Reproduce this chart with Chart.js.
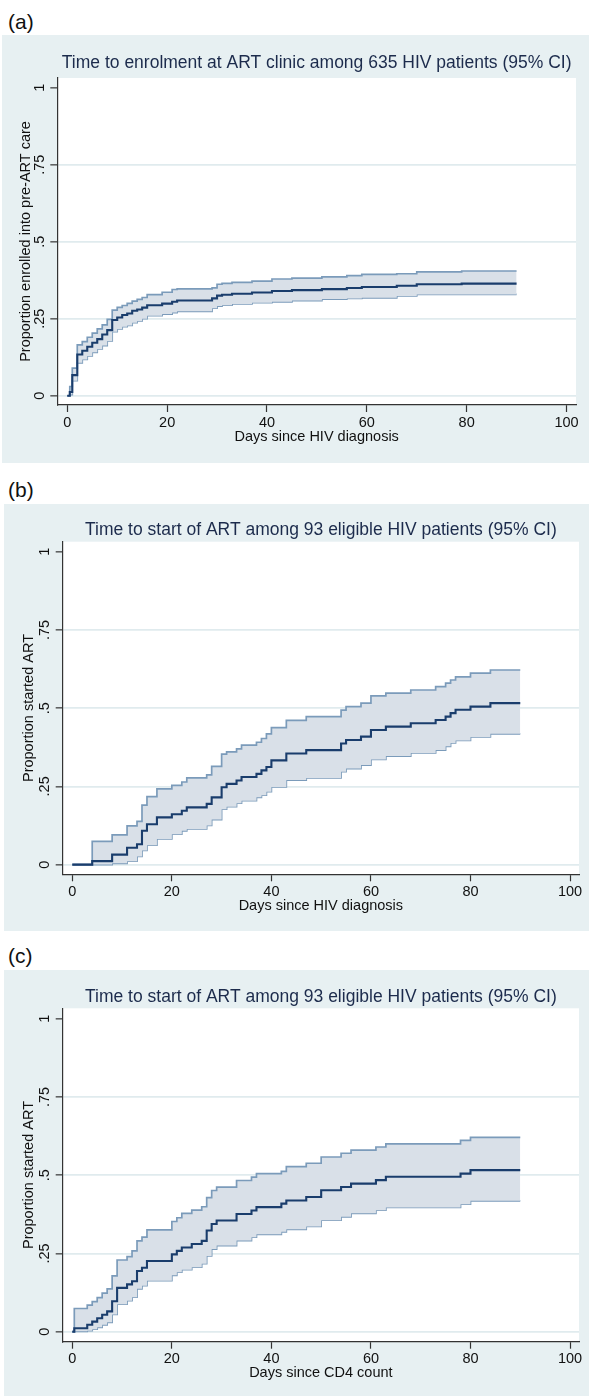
<!DOCTYPE html>
<html>
<head>
<meta charset="utf-8">
<script src="https://cdn.jsdelivr.net/npm/chart.js@4.4.1/dist/chart.umd.min.js"></script>
<style>
  html, body { margin: 0; padding: 0; background: #ffffff; }
  body { position: relative; width: 589px; height: 1396px; overflow: hidden; font-family: "Liberation Sans", Arial, sans-serif; }
  .panel { position: absolute; background: #e7f0f2; }
  .panel canvas { display: block; }
  .tag { position: absolute; font-size: 21px; color: #111; line-height: 1; }
</style>
</head>
<body>
<div class="tag" style="left:8px; top:11px;">(a)</div>
<div class="tag" style="left:8px; top:479px;">(b)</div>
<div class="tag" style="left:8px; top:945px;">(c)</div>
<div class="panel" style="left:2px; top:35px; width:587px; height:428px;"><canvas id="ca"></canvas></div>
<div class="panel" style="left:4px; top:504px; width:585px; height:427px;"><canvas id="cb"></canvas></div>
<div class="panel" style="left:4px; top:970px; width:585px; height:426px;"><canvas id="cc"></canvas></div>
<script>
// ---------- tick labels ----------
const xTickValues = [0, 20, 40, 60, 80, 100];
const yTickValues = [0, 0.25, 0.5, 0.75, 1];
const yTickLabels = ['0', '.25', '.5', '.75', '1'];

// ---------- (a) Time to enrolment at ART clinic, 635 HIV patients ----------
const daysA  = [0, 0.5, 1, 2, 3, 4, 5, 6, 7, 8, 9, 10, 11, 12, 13, 14, 15, 16, 19, 21, 22, 29, 30, 31, 33, 37, 41, 45, 51, 56, 59, 66, 70, 79, 90];
const estA   = [0, 0.012, 0.067, 0.134, 0.146, 0.159, 0.172, 0.184, 0.199, 0.213, 0.246, 0.254, 0.262, 0.267, 0.276, 0.280, 0.286, 0.294, 0.299, 0.305, 0.309, 0.316, 0.325, 0.328, 0.331, 0.335, 0.340, 0.343, 0.346, 0.350, 0.353, 0.357, 0.362, 0.364, 0.364];
const upperA = [0, 0.030, 0.090, 0.165, 0.176, 0.190, 0.203, 0.217, 0.230, 0.248, 0.278, 0.287, 0.293, 0.300, 0.307, 0.313, 0.319, 0.328, 0.336, 0.345, 0.347, 0.350, 0.362, 0.365, 0.368, 0.372, 0.379, 0.382, 0.386, 0.390, 0.394, 0.396, 0.402, 0.405, 0.405];
const lowerA = [0, 0.004, 0.049, 0.107, 0.118, 0.129, 0.141, 0.152, 0.163, 0.178, 0.208, 0.217, 0.224, 0.228, 0.237, 0.243, 0.250, 0.260, 0.265, 0.270, 0.274, 0.284, 0.291, 0.294, 0.298, 0.302, 0.305, 0.309, 0.314, 0.316, 0.318, 0.324, 0.329, 0.329, 0.329];

// ---------- (b) Time to start of ART since HIV diagnosis, 93 eligible ----------
const daysB  = [0, 4, 8, 11, 13, 14, 15, 17, 20, 22, 23, 27, 28, 30, 31, 33, 34, 37, 38, 39, 40, 43, 47, 54, 55, 58, 60, 63, 68, 73, 75, 76, 77, 80, 84, 90];
const estB   = [0, 0.011, 0.032, 0.054, 0.065, 0.108, 0.129, 0.151, 0.161, 0.172, 0.183, 0.194, 0.215, 0.247, 0.258, 0.269, 0.280, 0.290, 0.301, 0.312, 0.333, 0.355, 0.366, 0.387, 0.398, 0.409, 0.430, 0.441, 0.452, 0.462, 0.473, 0.484, 0.495, 0.505, 0.516, 0.516];
const upperB = [0, 0.074, 0.095, 0.124, 0.138, 0.190, 0.217, 0.242, 0.253, 0.264, 0.277, 0.287, 0.314, 0.353, 0.360, 0.370, 0.382, 0.391, 0.403, 0.418, 0.438, 0.461, 0.473, 0.494, 0.505, 0.516, 0.539, 0.548, 0.558, 0.569, 0.580, 0.590, 0.600, 0.612, 0.622, 0.622];
const lowerB = [0, 0.000, 0.004, 0.011, 0.026, 0.045, 0.062, 0.082, 0.097, 0.108, 0.114, 0.125, 0.144, 0.177, 0.185, 0.196, 0.204, 0.215, 0.222, 0.233, 0.248, 0.270, 0.277, 0.297, 0.307, 0.318, 0.336, 0.347, 0.357, 0.366, 0.378, 0.389, 0.397, 0.408, 0.418, 0.418];

// ---------- (c) Time to start of ART since CD4 count, 93 eligible ----------
const daysC  = [0, 0.4, 3, 4, 5, 6, 7, 8, 9, 11, 12, 13, 14, 15, 20, 21, 22, 24, 26, 27, 28, 29, 33, 36, 37, 42, 43, 47, 50, 54, 56, 61, 63, 78, 80, 90];
const estC   = [0, 0.011, 0.022, 0.032, 0.043, 0.054, 0.065, 0.097, 0.140, 0.151, 0.161, 0.194, 0.204, 0.226, 0.247, 0.258, 0.269, 0.280, 0.290, 0.323, 0.344, 0.355, 0.376, 0.387, 0.398, 0.409, 0.419, 0.430, 0.452, 0.462, 0.473, 0.484, 0.495, 0.505, 0.516, 0.516];
const upperC = [0, 0.074, 0.085, 0.096, 0.109, 0.123, 0.137, 0.178, 0.229, 0.240, 0.258, 0.290, 0.302, 0.325, 0.352, 0.364, 0.378, 0.388, 0.399, 0.428, 0.451, 0.462, 0.483, 0.494, 0.505, 0.512, 0.527, 0.538, 0.558, 0.570, 0.580, 0.590, 0.600, 0.611, 0.621, 0.621];
const lowerC = [0, 0.001, 0.003, 0.008, 0.014, 0.022, 0.030, 0.055, 0.088, 0.099, 0.110, 0.137, 0.147, 0.163, 0.180, 0.190, 0.198, 0.206, 0.217, 0.242, 0.264, 0.275, 0.291, 0.302, 0.311, 0.319, 0.327, 0.336, 0.356, 0.367, 0.378, 0.388, 0.397, 0.407, 0.418, 0.418];

// ---------- titles ----------
const titleA = 'Time to enrolment at ART clinic among 635 HIV patients (95% CI)';
const titleBC = 'Time to start of ART among 93 eligible HIV patients (95% CI)';
const yTitleA = 'Proportion enrolled into pre-ART care';
const yTitleBC = 'Proportion started ART';
const xTitleAB = 'Days since HIV diagnosis';
const xTitleC = 'Days since CD4 count';

// ---------- styles ----------
const FONT = '"Liberation Sans", Arial, sans-serif';
const MAIN_COLOR = '#1a3d6c';
const CI_LINE = '#7b9bba';
const CI_FILL = '#d9e0e8';
const GRID = '#e0ebee';
const AXIS = '#333333';
const TEXT = '#111111';
const TITLE_COLOR = '#1c2b4c';

const plotBg = {
  id: 'plotBg',
  beforeDraw(chart) {
    const {ctx, chartArea: a} = chart;
    ctx.save();
    ctx.fillStyle = '#ffffff';
    ctx.fillRect(a.left, a.top, a.right - a.left, a.bottom - a.top);
    ctx.restore();
  }
};

function pts(days, vals) { return days.map((d, i) => ({x: d, y: vals[i]})); }

function makeChart(id, L, days, est, upper, lower, title, yTitle, xTitle) {
  const cv = document.getElementById(id);
  cv.width = L.w; cv.height = L.h;
  cv.style.width = L.w + 'px'; cv.style.height = L.h + 'px';
  const titleLH = 21;
  const tickFont = {family: FONT, size: 14.5, lineHeight: 1.2};
  return new Chart(cv, {
    type: 'line',
    data: {
      datasets: [
        {label: 'estimate', data: pts(days, est), borderColor: MAIN_COLOR, borderWidth: 2.1, pointRadius: 0, stepped: 'before', fill: false},
        {label: 'upper', data: pts(days, upper), borderColor: CI_LINE, borderWidth: 1.7, pointRadius: 0, stepped: 'before', fill: '+1', backgroundColor: CI_FILL},
        {label: 'lower', data: pts(days, lower), borderColor: CI_LINE, borderWidth: 1.7, pointRadius: 0, stepped: 'before', fill: false}
      ]
    },
    options: {
      responsive: false,
      animation: false,
      devicePixelRatio: 1,
      layout: {padding: {left: 0, right: L.w - L.right, top: 0, bottom: 0}},
      plugins: {
        legend: {display: false},
        tooltip: {enabled: false},
        title: {
          display: true, text: title, fullSize: false, color: TITLE_COLOR,
          font: {family: FONT, size: 17.5, weight: 'normal', lineHeight: titleLH / 17.5},
          padding: {top: L.titleCenter - titleLH / 2, bottom: L.top - L.titleCenter - titleLH / 2}
        }
      },
      scales: {
        x: {
          type: 'linear', min: L.xmin, max: L.xmax,
          afterBuildTicks: s => { s.ticks = xTickValues.map(v => ({value: v})); },
          afterFit: s => { s.height = L.h - L.bottom; },
          border: {display: true, color: AXIS, width: 1.2},
          grid: {drawOnChartArea: false, drawTicks: true, tickLength: 7, tickColor: AXIS, tickWidth: 1.2},
          ticks: {autoSkip: false, maxRotation: 0, minRotation: 0, padding: 2, color: TEXT, font: tickFont,
                  callback: v => String(v)},
          title: {display: true, text: xTitle, color: TEXT, font: tickFont,
                  padding: {top: 0, bottom: (L.h - L.bottom) - 31.7 - 8.7}}
        },
        y: {
          type: 'linear', min: L.ymin, max: L.ymax,
          afterBuildTicks: s => { s.ticks = yTickValues.map(v => ({value: v})); },
          afterFit: s => { s.width = L.left; },
          border: {display: true, color: AXIS, width: 1.2},
          grid: {drawOnChartArea: true, drawTicks: true, tickLength: 7, tickColor: AXIS, tickWidth: 1.2,
                 lineWidth: 1.7, color: c => (c.tick && c.tick.value === 1) ? 'rgba(0,0,0,0)' : GRID},
          ticks: {autoSkip: false, minRotation: 90, maxRotation: 90, crossAlign: 'center', padding: 0.5,
                  color: TEXT, font: tickFont,
                  callback: v => { const i = yTickValues.indexOf(v); return i >= 0 ? yTickLabels[i] : ''; }},
          title: {display: true, text: yTitle, color: TEXT, font: tickFont,
                  padding: {top: L.yTitleX - 8.7, bottom: 0}}
        }
      }
    },
    plugins: [plotBg]
  });
}

makeChart('ca', {w: 587, h: 428, left: 55.3, right: 574, top: 43, bottom: 370, titleCenter: 28, yTitleX: 24,
                 xmin: -2.0, xmax: 101.9, ymin: -0.030, ymax: 1.0315},
          daysA, estA, upperA, lowerA, titleA, yTitleA, xTitleAB);
makeChart('cb', {w: 585, h: 427, left: 58.7, right: 575, top: 37.7, bottom: 370.3, titleCenter: 26, yTitleX: 25,
                 xmin: -1.93, xmax: 101.8, ymin: -0.031, ymax: 1.032},
          daysB, estB, upperB, lowerB, titleBC, yTitleBC, xTitleAB);
makeChart('cc', {w: 585, h: 426, left: 58.7, right: 575, top: 38.3, bottom: 371.7, titleCenter: 26.7, yTitleX: 25,
                 xmin: -1.93, xmax: 101.8, ymin: -0.032, ymax: 1.033},
          daysC, estC, upperC, lowerC, titleBC, yTitleBC, xTitleC);
</script>
</body>
</html>
